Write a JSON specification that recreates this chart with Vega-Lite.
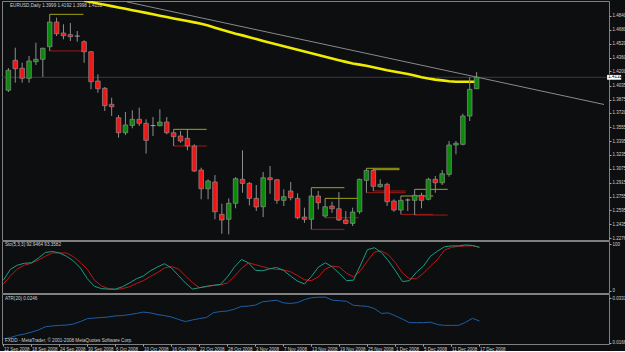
{
  "$schema": "https://vega.github.io/schema/vega-lite/v6.json",
  "background": "#0c0e10",
  "padding": 0,
  "spacing": 1,
  "bounds": "flush",
  "datasets": {
    "bars": [
      {"i":0,"o":1.3982,"h":1.4239,"l":1.3962,"c":1.4213,"st":23,"sg":15,"atr":0.0180},
      {"i":1,"o":1.4328,"h":1.4474,"l":1.4069,"c":1.4231,"st":46,"sg":32,"atr":0.0185},
      {"i":2,"o":1.4236,"h":1.4300,"l":1.4069,"c":1.4120,"st":55,"sg":47,"atr":0.0193},
      {"i":3,"o":1.4120,"h":1.4378,"l":1.4069,"c":1.4320,"st":59,"sg":55,"atr":0.0198},
      {"i":4,"o":1.4312,"h":1.4531,"l":1.4274,"c":1.4340,"st":60,"sg":59,"atr":0.0205},
      {"i":5,"o":1.4340,"h":1.4474,"l":1.4135,"c":1.4467,"st":70,"sg":66,"atr":0.0213},
      {"i":6,"o":1.4485,"h":1.4859,"l":1.4436,"c":1.4770,"st":82,"sg":74,"atr":0.0225},
      {"i":7,"o":1.4770,"h":1.4820,"l":1.4609,"c":1.4635,"st":84,"sg":81,"atr":0.0228},
      {"i":8,"o":1.4643,"h":1.4744,"l":1.4571,"c":1.4612,"st":81,"sg":81,"atr":0.0230},
      {"i":9,"o":1.4624,"h":1.4759,"l":1.4551,"c":1.4601,"st":74,"sg":81,"atr":0.0231},
      {"i":10,"o":1.4608,"h":1.4667,"l":1.4543,"c":1.4608,"st":64,"sg":73,"atr":0.0235},
      {"i":11,"o":1.4543,"h":1.4559,"l":1.4300,"c":1.4427,"st":49,"sg":61,"atr":0.0244,"ma":1.5017},
      {"i":12,"o":1.4427,"h":1.4436,"l":1.3993,"c":1.4081,"st":26,"sg":46,"atr":0.0255,"ma":1.5001},
      {"i":13,"o":1.4089,"h":1.4166,"l":1.3954,"c":1.4000,"st":10,"sg":23,"atr":0.0257,"ma":1.4985},
      {"i":14,"o":1.4005,"h":1.4020,"l":1.3743,"c":1.3804,"st":5,"sg":11,"atr":0.0259,"ma":1.4969},
      {"i":15,"o":1.3820,"h":1.3896,"l":1.3685,"c":1.3792,"st":4,"sg":5,"atr":0.0261,"ma":1.4954},
      {"i":16,"o":1.3665,"h":1.3696,"l":1.3434,"c":1.3492,"st":4,"sg":3,"atr":0.0265,"ma":1.4938},
      {"i":17,"o":1.3492,"h":1.3731,"l":1.3465,"c":1.3581,"st":9,"sg":5,"atr":0.0266,"ma":1.4923},
      {"i":18,"o":1.3577,"h":1.3751,"l":1.3543,"c":1.3647,"st":17,"sg":9,"atr":0.0270,"ma":1.4907},
      {"i":19,"o":1.3647,"h":1.3781,"l":1.3569,"c":1.3601,"st":26,"sg":16,"atr":0.0274,"ma":1.4891},
      {"i":20,"o":1.3600,"h":1.3647,"l":1.3250,"c":1.3404,"st":32,"sg":22,"atr":0.0279,"ma":1.4876},
      {"i":21,"o":1.3574,"h":1.3673,"l":1.3454,"c":1.3574,"st":43,"sg":31,"atr":0.0276,"ma":1.4859},
      {"i":22,"o":1.3573,"h":1.3762,"l":1.3566,"c":1.3615,"st":51,"sg":39,"atr":0.0270,"ma":1.4843},
      {"i":23,"o":1.3615,"h":1.3673,"l":1.3473,"c":1.3492,"st":58,"sg":49,"atr":0.0266,"ma":1.4828},
      {"i":24,"o":1.3492,"h":1.3531,"l":1.3338,"c":1.3446,"st":49,"sg":52,"atr":0.0261,"ma":1.4812},
      {"i":25,"o":1.3454,"h":1.3512,"l":1.3376,"c":1.3396,"st":33,"sg":47,"atr":0.0252,"ma":1.4797},
      {"i":26,"o":1.3427,"h":1.3531,"l":1.3289,"c":1.3338,"st":17,"sg":32,"atr":0.0244,"ma":1.4781},
      {"i":27,"o":1.3338,"h":1.3358,"l":1.3038,"c":1.3050,"st":4,"sg":18,"atr":0.0250,"ma":1.4766},
      {"i":28,"o":1.3061,"h":1.3088,"l":1.2723,"c":1.2845,"st":7,"sg":7,"atr":0.0255,"ma":1.4750},
      {"i":29,"o":1.2845,"h":1.2954,"l":1.2723,"c":1.2934,"st":10,"sg":9,"atr":0.0259,"ma":1.4729},
      {"i":30,"o":1.2923,"h":1.3003,"l":1.2492,"c":1.2579,"st":12,"sg":12,"atr":0.0277,"ma":1.4705},
      {"i":31,"o":1.2549,"h":1.2672,"l":1.2325,"c":1.2484,"st":14,"sg":13,"atr":0.0281,"ma":1.4680},
      {"i":32,"o":1.2492,"h":1.2734,"l":1.2318,"c":1.2677,"st":30,"sg":17,"atr":0.0283,"ma":1.4658},
      {"i":33,"o":1.2677,"h":1.2980,"l":1.2619,"c":1.2961,"st":51,"sg":31,"atr":0.0290,"ma":1.4636},
      {"i":34,"o":1.2954,"h":1.3289,"l":1.2799,"c":1.2907,"st":67,"sg":48,"atr":0.0300,"ma":1.4616},
      {"i":35,"o":1.2907,"h":1.2923,"l":1.2653,"c":1.2734,"st":60,"sg":60,"atr":0.0301,"ma":1.4594},
      {"i":36,"o":1.2734,"h":1.2888,"l":1.2588,"c":1.2634,"st":44,"sg":56,"atr":0.0305,"ma":1.4573},
      {"i":37,"o":1.2637,"h":1.3038,"l":1.2518,"c":1.2972,"st":43,"sg":52,"atr":0.0317,"ma":1.4552},
      {"i":38,"o":1.2972,"h":1.3107,"l":1.2787,"c":1.2949,"st":47,"sg":48,"atr":0.0320,"ma":1.4531},
      {"i":39,"o":1.2949,"h":1.2954,"l":1.2672,"c":1.2711,"st":50,"sg":46,"atr":0.0323,"ma":1.4511},
      {"i":40,"o":1.2711,"h":1.2838,"l":1.2645,"c":1.2753,"st":44,"sg":45,"atr":0.0313,"ma":1.4491},
      {"i":41,"o":1.2819,"h":1.2923,"l":1.2711,"c":1.2741,"st":32,"sg":41,"atr":0.0311,"ma":1.4470},
      {"i":42,"o":1.2734,"h":1.2792,"l":1.2492,"c":1.2510,"st":21,"sg":33,"atr":0.0314,"ma":1.4449},
      {"i":43,"o":1.2518,"h":1.2626,"l":1.2452,"c":1.2492,"st":15,"sg":24,"atr":0.0325,"ma":1.4429},
      {"i":44,"o":1.2492,"h":1.2857,"l":1.2376,"c":1.2761,"st":31,"sg":22,"atr":0.0332,"ma":1.4409},
      {"i":45,"o":1.2761,"h":1.2819,"l":1.2607,"c":1.2683,"st":51,"sg":30,"atr":0.0334,"ma":1.4389},
      {"i":46,"o":1.2530,"h":1.2734,"l":1.2510,"c":1.2637,"st":60,"sg":47,"atr":0.0334,"ma":1.4370},
      {"i":47,"o":1.2645,"h":1.2695,"l":1.2568,"c":1.2614,"st":51,"sg":53,"atr":0.0323,"ma":1.4349},
      {"i":48,"o":1.2614,"h":1.2807,"l":1.2472,"c":1.2484,"st":37,"sg":51,"atr":0.0321,"ma":1.4329},
      {"i":49,"o":1.2484,"h":1.2588,"l":1.2434,"c":1.2445,"st":22,"sg":38,"atr":0.0319,"ma":1.4310},
      {"i":50,"o":1.2445,"h":1.2626,"l":1.2414,"c":1.2576,"st":23,"sg":30,"atr":0.0304,"ma":1.4291},
      {"i":51,"o":1.2579,"h":1.2961,"l":1.2556,"c":1.2954,"st":55,"sg":43,"atr":0.0302,"ma":1.4278},
      {"i":52,"o":1.2942,"h":1.3081,"l":1.2799,"c":1.3057,"st":88,"sg":64,"atr":0.0300,"ma":1.4266},
      {"i":53,"o":1.3057,"h":1.3081,"l":1.2819,"c":1.2873,"st":92,"sg":83,"atr":0.0292,"ma":1.4248},
      {"i":54,"o":1.2868,"h":1.2954,"l":1.2857,"c":1.2896,"st":82,"sg":85,"atr":0.0274,"ma":1.4231},
      {"i":55,"o":1.2896,"h":1.2914,"l":1.2645,"c":1.2695,"st":64,"sg":77,"atr":0.0276,"ma":1.4214},
      {"i":56,"o":1.2703,"h":1.2723,"l":1.2579,"c":1.2599,"st":43,"sg":60,"atr":0.0265,"ma":1.4199},
      {"i":57,"o":1.2599,"h":1.2761,"l":1.2549,"c":1.2711,"st":20,"sg":38,"atr":0.0253,"ma":1.4185},
      {"i":58,"o":1.2715,"h":1.2734,"l":1.2588,"c":1.2715,"st":22,"sg":26,"atr":0.0240,"ma":1.4171},
      {"i":59,"o":1.2711,"h":1.2838,"l":1.2541,"c":1.2769,"st":40,"sg":26,"atr":0.0240,"ma":1.4153},
      {"i":60,"o":1.2769,"h":1.2799,"l":1.2619,"c":1.2711,"st":53,"sg":38,"atr":0.0240,"ma":1.4133},
      {"i":61,"o":1.2723,"h":1.2972,"l":1.2711,"c":1.2954,"st":74,"sg":53,"atr":0.0242,"ma":1.4118},
      {"i":62,"o":1.2954,"h":1.2992,"l":1.2799,"c":1.2914,"st":85,"sg":67,"atr":0.0233,"ma":1.4105},
      {"i":63,"o":1.2914,"h":1.3061,"l":1.2888,"c":1.3018,"st":94,"sg":87,"atr":0.0230,"ma":1.4096},
      {"i":64,"o":1.3011,"h":1.3396,"l":1.2984,"c":1.3350,"st":96,"sg":93,"atr":0.0230,"ma":1.4086},
      {"i":65,"o":1.3350,"h":1.3396,"l":1.3242,"c":1.3370,"st":96,"sg":95,"atr":0.0230,"ma":1.4081},
      {"i":66,"o":1.3358,"h":1.3711,"l":1.3346,"c":1.3685,"st":98,"sg":96,"atr":0.0241,"ma":1.4080},
      {"i":67,"o":1.3685,"h":1.4135,"l":1.3627,"c":1.3993,"st":97,"sg":96,"atr":0.0256,"ma":1.4080},
      {"i":68,"o":1.3999,"h":1.4192,"l":1.3998,"c":1.4132,"st":92.9464,"sg":93.3582,"atr":0.0246,"ma":1.4081}
    ],
    "ranges": [
      {"i":6,"i2":10.9,"p":1.4859,"k":"hi"},{"i":6,"i2":10.9,"p":1.4436,"k":"lo"},
      {"i":24,"i2":28.8,"p":1.3531,"k":"hi"},{"i":24,"i2":28.8,"p":1.3338,"k":"lo"},
      {"i":44,"i2":48.8,"p":1.2857,"k":"hi"},{"i":44,"i2":48.8,"p":1.2376,"k":"lo"},
      {"i":46,"i2":50.7,"p":1.2734,"k":"hi"},{"i":46,"i2":50.9,"p":1.2510,"k":"lo"},
      {"i":52,"i2":56.8,"p":1.3081,"k":"hi"},{"i":52,"i2":57.7,"p":1.2799,"k":"lo"},
      {"i":53,"i2":56.8,"p":1.3065,"k":"hi"},{"i":53,"i2":57.7,"p":1.2819,"k":"lo"},
      {"i":57,"i2":61.7,"p":1.2761,"k":"hi"},{"i":57,"i2":61.7,"p":1.2549,"k":"lo"},
      {"i":59,"i2":63.8,"p":1.2838,"k":"hi"},{"i":59,"i2":63.8,"p":1.2541,"k":"lo"}
    ],
    "trend": [
      {"i":17.2,"p":1.5003},
      {"i":86.5,"p":1.3818}
    ],
    "one": [{}]
  },
  "vconcat": [
    {
      "width": 607,
      "height": 239,
      "layer": [
        {
          "data": {"name": "one"},
          "mark": {"type": "rule", "color": "#333c45", "strokeWidth": 1},
          "encoding": {
            "y": {"datum": 1.4132, "type": "quantitative", "scale": {"domain": [1.2253, 1.5013], "nice": false, "zero": false},
                  "axis": {"orient": "right", "title": null, "format": ".4f", "labelOverlap": false, "tickCount": 100, "values": [1.484,1.468,1.452,1.436,1.42,1.4035,1.3875,1.372,1.3555,1.3395,1.3235,1.3075,1.2915,1.2755,1.2595,1.2435,1.2276]}}
          }
        },
        {
          "data": {"name": "trend"},
          "mark": {"type": "line", "color": "#8a8a8a", "strokeWidth": 1, "clip": true},
          "encoding": {
            "x": {"field": "i", "type": "quantitative", "scale": {"domain": [-0.2, 86.5], "nice": false, "zero": false}, "axis": null},
            "y": {"field": "p", "type": "quantitative", "scale": {"domain": [1.2253, 1.5013], "nice": false, "zero": false},
                  "axis": {"orient": "right", "title": null, "format": ".4f", "labelOverlap": false, "tickCount": 100, "values": [1.484,1.468,1.452,1.436,1.42,1.4035,1.3875,1.372,1.3555,1.3395,1.3235,1.3075,1.2915,1.2755,1.2595,1.2435,1.2276]}}
          }
        },
        {
          "data": {"name": "bars"},
          "mark": {"type": "line", "color": "#f0ec00", "strokeWidth": 2.6, "clip": true},
          "encoding": {
            "x": {"field": "i", "type": "quantitative", "scale": {"domain": [-0.2, 86.5], "nice": false, "zero": false}, "axis": null},
            "y": {"field": "ma", "type": "quantitative", "scale": {"domain": [1.2253, 1.5013], "nice": false, "zero": false},
                  "axis": {"orient": "right", "title": null, "format": ".4f", "labelOverlap": false, "tickCount": 100, "values": [1.484,1.468,1.452,1.436,1.42,1.4035,1.3875,1.372,1.3555,1.3395,1.3235,1.3075,1.2915,1.2755,1.2595,1.2435,1.2276]}}
          }
        },
        {
          "data": {"name": "ranges"},
          "mark": {"type": "rule", "strokeWidth": 1},
          "encoding": {
            "x": {"field": "i", "type": "quantitative", "scale": {"domain": [-0.2, 86.5], "nice": false, "zero": false}, "axis": null},
            "x2": {"field": "i2"},
            "y": {"field": "p", "type": "quantitative", "scale": {"domain": [1.2253, 1.5013], "nice": false, "zero": false},
                  "axis": {"orient": "right", "title": null, "format": ".4f", "labelOverlap": false, "tickCount": 100, "values": [1.484,1.468,1.452,1.436,1.42,1.4035,1.3875,1.372,1.3555,1.3395,1.3235,1.3075,1.2915,1.2755,1.2595,1.2435,1.2276]}},
            "color": {"field": "k", "type": "nominal", "scale": {"domain": ["hi", "lo"], "range": ["#a3a314", "#a01a14"]}, "legend": null}
          }
        },
        {
          "data": {"name": "bars"},
          "mark": {"type": "rule", "color": "#8e8e8e", "strokeWidth": 1},
          "encoding": {
            "x": {"field": "i", "type": "quantitative", "scale": {"domain": [-0.2, 86.5], "nice": false, "zero": false}, "axis": null},
            "y": {"field": "l", "type": "quantitative", "scale": {"domain": [1.2253, 1.5013], "nice": false, "zero": false},
                  "axis": {"orient": "right", "title": null, "format": ".4f", "labelOverlap": false, "tickCount": 100, "values": [1.484,1.468,1.452,1.436,1.42,1.4035,1.3875,1.372,1.3555,1.3395,1.3235,1.3075,1.2915,1.2755,1.2595,1.2435,1.2276]}},
            "y2": {"field": "h"}
          }
        },
        {
          "data": {"name": "bars"},
          "transform": [{"filter": "datum.o != datum.c"}],
          "mark": {"type": "bar", "size": 4.6, "stroke": "#8e8e8e", "strokeWidth": 0.7},
          "encoding": {
            "x": {"field": "i", "type": "quantitative", "scale": {"domain": [-0.2, 86.5], "nice": false, "zero": false}, "axis": null},
            "y": {"field": "o", "type": "quantitative", "scale": {"domain": [1.2253, 1.5013], "nice": false, "zero": false},
                  "axis": {"orient": "right", "title": null, "format": ".4f", "labelOverlap": false, "tickCount": 100, "values": [1.484,1.468,1.452,1.436,1.42,1.4035,1.3875,1.372,1.3555,1.3395,1.3235,1.3075,1.2915,1.2755,1.2595,1.2435,1.2276]}},
            "y2": {"field": "c"},
            "color": {"condition": {"test": "datum.c > datum.o", "value": "#0a8a0a"}, "value": "#f41414"}
          }
        },
        {
          "data": {"name": "bars"},
          "transform": [{"filter": "datum.o == datum.c"}],
          "mark": {"type": "tick", "orient": "horizontal", "color": "#d8d8d8", "size": 5, "thickness": 1},
          "encoding": {
            "x": {"field": "i", "type": "quantitative", "scale": {"domain": [-0.2, 86.5], "nice": false, "zero": false}, "axis": null},
            "y": {"field": "c", "type": "quantitative", "scale": {"domain": [1.2253, 1.5013], "nice": false, "zero": false},
                  "axis": {"orient": "right", "title": null, "format": ".4f", "labelOverlap": false, "tickCount": 100, "values": [1.484,1.468,1.452,1.436,1.42,1.4035,1.3875,1.372,1.3555,1.3395,1.3235,1.3075,1.2915,1.2755,1.2595,1.2435,1.2276]}}
          }
        },
        {
          "data": {"name": "one"},
          "mark": {"type": "text", "text": "EURUSD,Daily  1.3999 1.4192 1.3998 1.4132", "color": "#d0d0d0", "align": "left", "baseline": "middle", "fontSize": 4.6, "font": "Liberation Sans", "dx": 3},
          "encoding": {
            "x": {"datum": -0.2, "type": "quantitative"},
            "y": {"datum": 1.4955, "type": "quantitative"}
          }
        },
        {
          "data": {"name": "one"},
          "mark": {"type": "rect", "color": "#ffffff", "clip": false},
          "encoding": {
            "x": {"datum": 86.95, "type": "quantitative"},
            "x2": {"datum": 89.0},
            "y": {"datum": 1.4160, "type": "quantitative"},
            "y2": {"datum": 1.4104}
          }
        },
        {
          "data": {"name": "one"},
          "mark": {"type": "text", "text": "1.4132", "color": "#000000", "align": "left", "baseline": "middle", "fontSize": 4.5, "font": "Liberation Sans", "clip": false},
          "encoding": {
            "x": {"datum": 87.1, "type": "quantitative"},
            "y": {"datum": 1.4132, "type": "quantitative"}
          }
        }
      ]
    },
    {
      "width": 607,
      "height": 52,
      "layer": [
        {
          "data": {"name": "bars"},
          "mark": {"type": "line", "color": "#c21616", "strokeWidth": 1},
          "encoding": {
            "x": {"field": "i", "type": "quantitative", "scale": {"domain": [-0.2, 86.5], "nice": false, "zero": false}, "axis": null},
            "y": {"field": "sg", "type": "quantitative", "scale": {"domain": [-4.3, 106.4], "nice": false, "zero": false},
                  "axis": {"orient": "right", "title": null, "values": [0, 100], "format": "d", "labelOverlap": false, "tickCount": 100}}
          }
        },
        {
          "data": {"name": "bars"},
          "mark": {"type": "line", "color": "#1c9c86", "strokeWidth": 1},
          "encoding": {
            "x": {"field": "i", "type": "quantitative", "scale": {"domain": [-0.2, 86.5], "nice": false, "zero": false}, "axis": null},
            "y": {"field": "st", "type": "quantitative", "scale": {"domain": [-4.3, 106.4], "nice": false, "zero": false},
                  "axis": {"orient": "right", "title": null, "values": [0, 100], "format": "d", "labelOverlap": false, "tickCount": 100}}
          }
        },
        {
          "data": {"name": "one"},
          "mark": {"type": "text", "text": "Sto(5,3,3) 92.9464 93.3582", "color": "#d0d0d0", "align": "left", "baseline": "middle", "fontSize": 4.6, "font": "Liberation Sans", "dx": 3},
          "encoding": {
            "x": {"datum": -0.2, "type": "quantitative"},
            "y": {"datum": 97.9, "type": "quantitative"}
          }
        }
      ]
    },
    {
      "width": 607,
      "height": 50,
      "layer": [
        {
          "data": {"name": "bars"},
          "mark": {"type": "line", "color": "#1f5ea8", "strokeWidth": 1},
          "encoding": {
            "x": {"field": "i", "type": "quantitative", "scale": {"domain": [-0.2, 86.5], "nice": false, "zero": false},
                  "axis": {"orient": "bottom", "title": null, "values": [0,4,8,12,16,20,24,28,32,36,40,44,48,52,56,60,64,68], "labelAlign": "left", "labelBaseline": "top", "labelPadding": 0, "tickSize": 2, "labelOverlap": false, "tickCount": 100,
                           "labelExpr": "['12 Sep 2008','18 Sep 2008','24 Sep 2008','30 Sep 2008','6 Oct 2008','10 Oct 2008','16 Oct 2008','22 Oct 2008','28 Oct 2008','3 Nov 2008','7 Nov 2008','13 Nov 2008','19 Nov 2008','25 Nov 2008','1 Dec 2008','5 Dec 2008','11 Dec 2008','17 Dec 2008'][round(datum.value/4)]"}},
            "y": {"field": "atr", "type": "quantitative", "scale": {"domain": [0.01612, 0.03458], "nice": false, "zero": false},
                  "axis": {"orient": "right", "title": null, "values": [0.0166, 0.0331], "format": ".4f", "labelOverlap": false, "tickCount": 100}}
          }
        },
        {
          "data": {"name": "one"},
          "mark": {"type": "text", "text": "ATR(20) 0.0246", "color": "#d0d0d0", "align": "left", "baseline": "middle", "fontSize": 4.6, "font": "Liberation Sans", "dx": 3},
          "encoding": {
            "x": {"datum": -0.2, "type": "quantitative"},
            "y": {"datum": 0.03273, "type": "quantitative"}
          }
        },
        {
          "data": {"name": "one"},
          "mark": {"type": "text", "text": "FXDD - MetaTrader, © 2001-2008 MetaQuotes Software Corp.", "color": "#d0d0d0", "align": "left", "baseline": "middle", "fontSize": 4.6, "font": "Liberation Sans", "dx": 3},
          "encoding": {
            "x": {"datum": -0.2, "type": "quantitative"},
            "y": {"datum": 0.01722, "type": "quantitative"}
          }
        }
      ]
    }
  ],
  "config": {
    "view": {"stroke": "#808080", "strokeWidth": 1, "fill": "#0c0e10"},
    "axis": {"labelFont": "Liberation Sans", "labelFontSize": 4.5, "labelColor": "#d0d0d0", "tickColor": "#a8a8a8", "tickSize": 2, "domain": false, "grid": false, "labelPadding": 1, "labelOverlap": false, "labelBound": false, "labelFlush": false}
  }
}
